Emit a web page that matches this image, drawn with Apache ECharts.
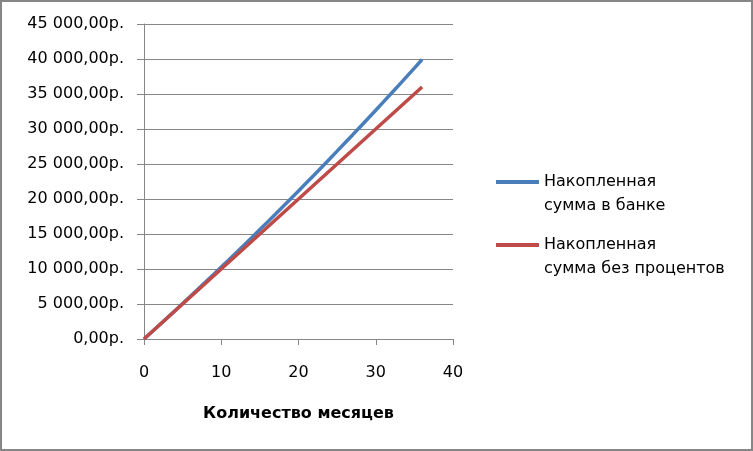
<!DOCTYPE html>
<html><head><meta charset="utf-8">
<script src="https://cdn.jsdelivr.net/npm/echarts@6/dist/echarts.min.js"></script>
<style>
html,body{margin:0;padding:0;background:#fff;}
#c{width:753px;height:451px;box-sizing:border-box;border:2px solid #868686;}
</style></head>
<body><div id="c"></div>
<script>
const months = [0,1,2,3,4,5,6,7,8,9,10,11,12,13,14,15,16,17,18,19,20,21,22,23,24,25,26,27,28,29,30,31,32,33,34,35,36];
const bankSum = [0,1000,2006,3018,4035,5059,6088,7124,8165,9213,10267,11327,12393,13466,14545,15630,16721,17819,18923,20034,21151,22274,23404,24541,25684,26834,27991,29154,30324,31501,32685,33875,35073,36277,37489,38707,39933];
const plainSum = [0,1000,2000,3000,4000,5000,6000,7000,8000,9000,10000,11000,12000,13000,14000,15000,16000,17000,18000,19000,20000,21000,22000,23000,24000,25000,26000,27000,28000,29000,30000,31000,32000,33000,34000,35000,36000];
const seriesNames = ['Накопленная\nсумма в банке', 'Накопленная\nсумма без процентов'];
const xTitle = 'Количество месяцев';

const font = 'DejaVu Sans';
function fmtRub(v){
  const s = String(Math.round(v)).replace(/\B(?=(\d{3})+(?!\d))/g, ' ');
  return s + ',00р.';
}
const chart = echarts.init(document.getElementById('c'), null, {renderer:'canvas'});
chart.setOption({
  animation:false,
  grid:{left:142, right:298, top:22, bottom:110, containLabel:false},
  xAxis:{type:'value', min:0, max:40, interval:10,
    name:xTitle, nameLocation:'middle', nameGap:67,
    nameTextStyle:{fontFamily:font, fontSize:16, fontWeight:'bold', color:'#000'},
    axisLine:{show:true, lineStyle:{color:'#868686', width:1}},
    axisTick:{show:true, length:6, lineStyle:{color:'#868686'}},
    axisLabel:{fontFamily:font, fontSize:16, color:'#000', margin:26},
    splitLine:{show:false}},
  yAxis:{type:'value', min:0, max:45000, interval:5000,
    axisLine:{show:true, lineStyle:{color:'#868686', width:1}},
    axisTick:{show:true, length:7, lineStyle:{color:'#868686'}},
    axisLabel:{fontFamily:font, fontSize:16, color:'#000', margin:20, formatter:fmtRub},
    splitLine:{show:true, lineStyle:{color:'#868686', width:1}}},
  legend:{orient:'vertical', left:494, top:144, padding:0, itemWidth:43, itemHeight:4, icon:'rect', itemGap:-9, itemTextGap:3,
    formatter:name => '\n' + name,
    textStyle:{fontFamily:font, fontSize:16, color:'#000', lineHeight:24},
    data:seriesNames},
  series:[
    {name:seriesNames[0], type:'line', data:months.map((m,i)=>[m,bankSum[i]]), showSymbol:false, symbol:'none',
     lineStyle:{color:'#4A7EBB', width:3.5}, itemStyle:{color:'#4A7EBB'}},
    {name:seriesNames[1], type:'line', data:months.map((m,i)=>[m,plainSum[i]]), showSymbol:false, symbol:'none',
     lineStyle:{color:'#BE4B48', width:3.5}, itemStyle:{color:'#BE4B48'}}
  ]
});
</script></body></html>
